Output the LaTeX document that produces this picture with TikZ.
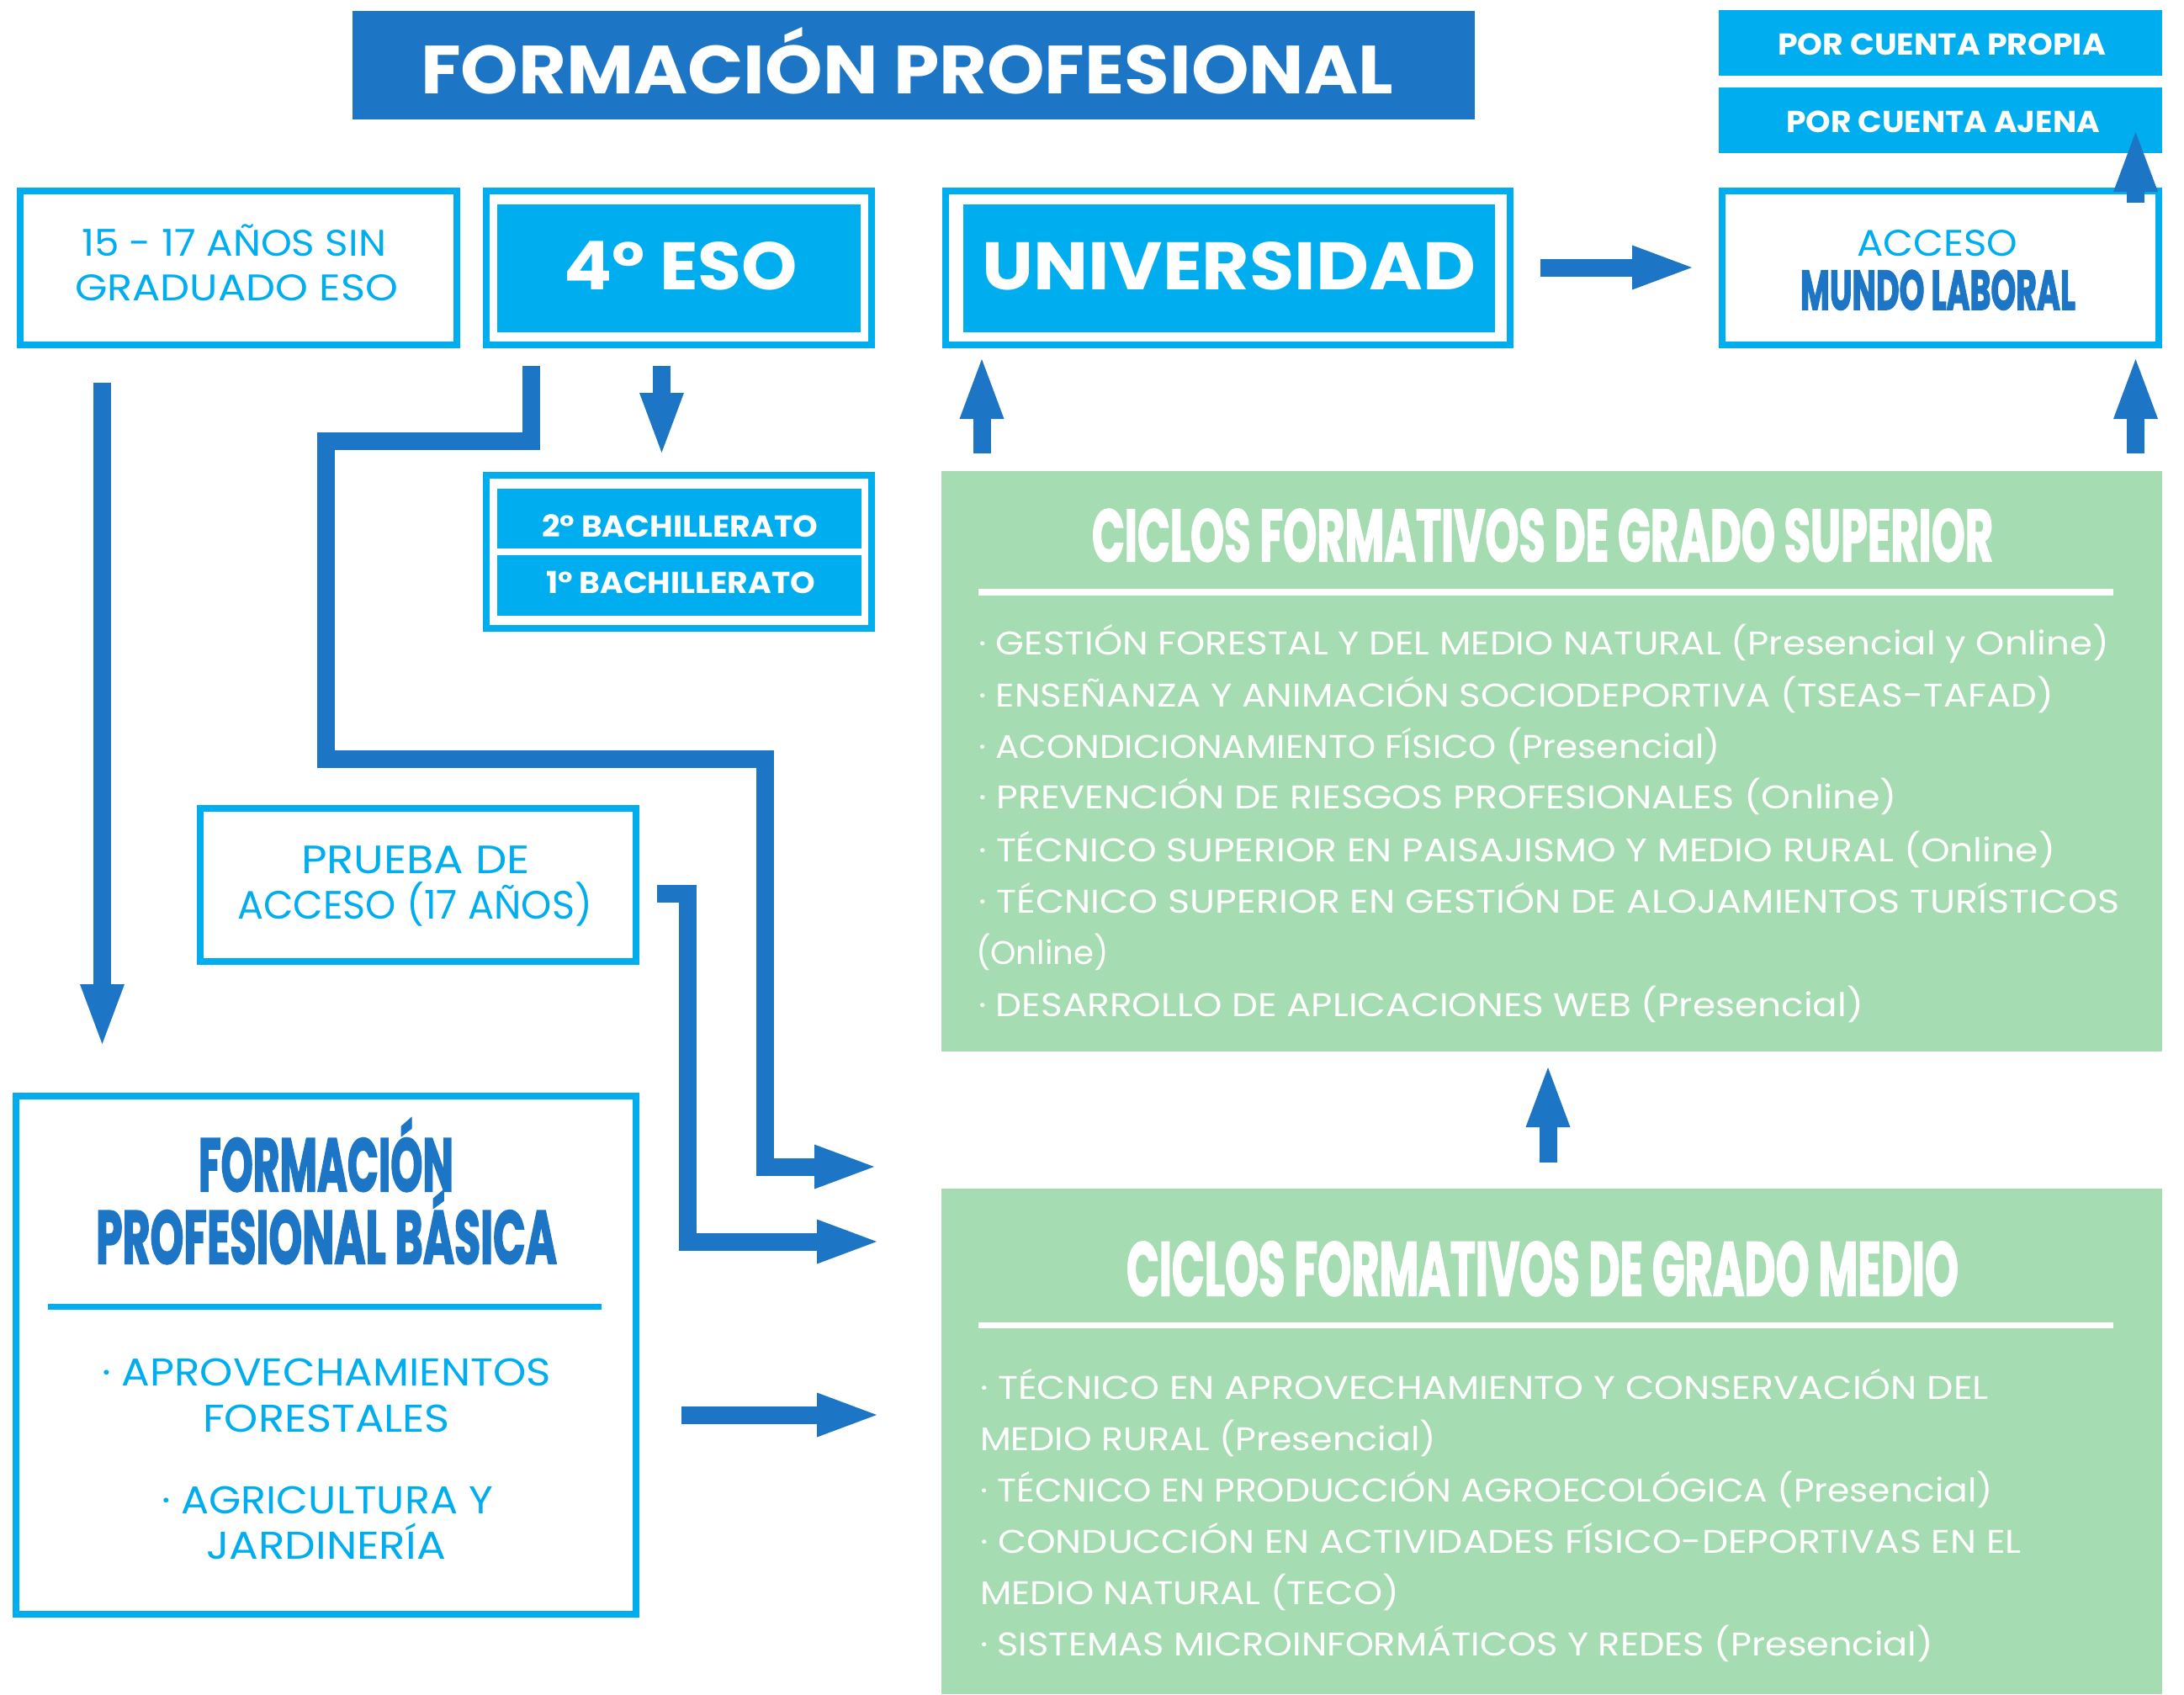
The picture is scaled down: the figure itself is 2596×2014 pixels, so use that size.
\documentclass[tikz,border=0pt]{standalone}
\usepackage{fontspec}
\setmainfont{Poppins}
\newfontfamily\condfont{Poppins}[BoldFeatures={FakeBold=2.5}]
\usetikzlibrary{arrows.meta}
\definecolor{dblue}{RGB}{28,117,197}
\definecolor{cyanb}{RGB}{0,174,239}
\definecolor{lgreen}{RGB}{166,220,177}
\newcommand{\tline}[6]{\node[anchor=base west,#5] (#1) at (#2,#3) {\resizebox{#4pt}{\height}{#6}};}
\begin{document}
\begin{tikzpicture}[x=1pt,y=-1pt,
  every node/.style={inner sep=0pt,outer sep=0pt},
  lt/.style={text=cyanb,font=\fontsize{#1pt}{#1pt}\selectfont},
  wt/.style={text=white,font=\fontsize{#1pt}{#1pt}\selectfont},
  bw/.style={text=white,font=\bfseries\fontsize{#1pt}{#1pt}\selectfont},
  cond/.style={font=\condfont\bfseries\fontsize{#1pt}{#1pt}\selectfont},
  box/.style={draw=cyanb,line width=8pt},
  fillbox/.style={fill=#1,draw=none},
  sepline/.style={line width=#1},
  flow/.style={draw=dblue,line width=21pt,line join=miter,
    -{Triangle[length=71pt,width=53pt,line width=0pt]}}]
\fill[white] (0,0) rectangle (2596,2014);
% ---- boxes
\node[fillbox=dblue,minimum width=1334pt,minimum height=129pt] (title) at (1086,77.5) {};
\node[fillbox=cyanb,minimum width=527pt,minimum height=78pt] (propia) at (2306.5,51) {};
\node[fillbox=cyanb,minimum width=527pt,minimum height=78pt] (ajena) at (2306.5,143) {};
\node[box,minimum width=519pt,minimum height=183pt] (anos) at (283.5,318.5) {};
\node[box,minimum width=458pt,minimum height=183pt] (eso) at (807,318.5) {};
\node[fillbox=cyanb,minimum width=432pt,minimum height=152pt] (esoin) at (807,319) {};
\node[box,minimum width=671pt,minimum height=183pt] (univ) at (1459.5,318.5) {};
\node[fillbox=cyanb,minimum width=632pt,minimum height=152pt] (univin) at (1461,319) {};
\node[box,minimum width=519pt,minimum height=183pt] (mundo) at (2306.5,318.5) {};
\node[box,minimum width=458pt,minimum height=182pt] (bach) at (807,656) {};
\node[fillbox=cyanb,minimum width=433pt,minimum height=71pt] (bachtwo) at (807.5,616.5) {};
\node[fillbox=cyanb,minimum width=433pt,minimum height=72pt] (bachone) at (807.5,696) {};
\node[box,minimum width=518pt,minimum height=182pt] (prueba) at (497,1052) {};
\node[box,minimum width=737pt,minimum height=616pt] (fpb) at (387.5,1611) {};
\node[fillbox=lgreen,minimum width=1451pt,minimum height=690pt] (sup) at (1844.5,905) {};
\node[fillbox=lgreen,minimum width=1451pt,minimum height=601pt] (med) at (1844.5,1713.5) {};
% ---- separators
\draw[cyanb,sepline=7pt] (57,1553.5) -- (715,1553.5);
\draw[white,sepline=8pt] (1163,704) -- (2512,704);
\draw[white,sepline=7pt] (1163,1575.5) -- (2512,1575.5);
% ---- texts
\tline{ttitle}{500}{111}{1156}{bw=81}{FORMACIÓN PROFESIONAL}
\tline{tpropia}{2113}{65}{390}{bw=36}{POR CUENTA PROPIA}
\tline{tajena}{2123}{157}{373}{bw=36}{POR CUENTA AJENA}
\tline{tanos1}{97}{304}{362}{lt=44}{15 - 17 AÑOS SIN}
\tline{tanos2}{89}{357}{384}{lt=44}{GRADUADO ESO}
\tline{teso}{670}{344}{278}{bw=80}{4° ESO}
\tline{tuniv}{1167}{344}{587}{bw=80}{UNIVERSIDAD}
\tline{tacceso}{2207}{304}{191}{lt=44}{ACCESO}
\tline{tmundo}{2140}{368}{327}{cond=66,text=dblue}{MUNDO LABORAL}
\tline{tbtwo}{644}{638}{328}{bw=36}{2° BACHILLERATO}
\tline{tbone}{649}{705}{320}{bw=36}{1° BACHILLERATO}
\tline{tpr1}{358}{1038}{272}{lt=47}{PRUEBA DE}
\tline{tpr2}{282}{1092}{422}{lt=47}{ACCESO (17 AÑOS)}
\tline{tfpb1}{236}{1416}{303}{cond=89,text=dblue}{FORMACIÓN}
\tline{tfpb2}{114}{1502}{548}{cond=89,text=dblue}{PROFESIONAL BÁSICA}
\tline{tfi1}{121}{1647}{534}{lt=46}{· APROVECHAMIENTOS}
\tline{tfi2}{241}{1702}{294}{lt=46}{FORESTALES}
\tline{tfi3}{192}{1799}{394}{lt=46}{· AGRICULTURA Y}
\tline{tfi4}{245}{1853}{285}{lt=46}{JARDINERÍA}
\tline{tsup}{1298}{667}{1071}{cond=87,text=white}{CICLOS FORMATIVOS DE GRADO SUPERIOR}
\tline{ts1}{1163}{778}{1344}{wt=39}{· GESTIÓN FORESTAL Y DEL MEDIO NATURAL (Presencial y Online)}
\tline{ts2}{1163}{840}{1278}{wt=39}{· ENSEÑANZA Y ANIMACIÓN SOCIODEPORTIVA (TSEAS-TAFAD)}
\tline{ts3}{1163}{901}{882}{wt=39}{· ACONDICIONAMIENTO FÍSICO (Presencial)}
\tline{ts4}{1163}{961}{1092}{wt=39}{· PREVENCIÓN DE RIESGOS PROFESIONALES (Online)}
\tline{ts5}{1163}{1024}{1280}{wt=39}{· TÉCNICO SUPERIOR EN PAISAJISMO Y MEDIO RURAL (Online)}
\tline{ts6}{1163}{1085}{1356}{wt=39}{· TÉCNICO SUPERIOR EN GESTIÓN DE ALOJAMIENTOS TURÍSTICOS}
\tline{ts7}{1160}{1146}{158}{wt=39}{(Online)}
\tline{ts8}{1163}{1208}{1052}{wt=39}{· DESARROLLO DE APLICACIONES WEB (Presencial)}
\tline{tmed}{1339}{1540}{989}{cond=90,text=white}{CICLOS FORMATIVOS DE GRADO MEDIO}
\tline{tm1}{1165}{1663}{1199}{wt=39}{· TÉCNICO EN APROVECHAMIENTO Y CONSERVACIÓN DEL}
\tline{tm2}{1165}{1724}{542}{wt=39}{MEDIO RURAL (Presencial)}
\tline{tm3}{1165}{1785}{1204}{wt=39}{· TÉCNICO EN PRODUCCIÓN AGROECOLÓGICA (Presencial)}
\tline{tm4}{1165}{1846}{1238}{wt=39}{· CONDUCCIÓN EN ACTIVIDADES FÍSICO-DEPORTIVAS EN EL}
\tline{tm5}{1165}{1907}{498}{wt=39}{MEDIO NATURAL (TECO)}
\tline{tm6}{1165}{1968}{1133}{wt=39}{· SISTEMAS MICROINFORMÁTICOS Y REDES (Presencial)}
% ---- connector end points
\coordinate (anosout) at (121.5,455);
\coordinate (fpbin) at (121.5,1241);
\coordinate (esoout) at (786.5,435);
\coordinate (bachin) at (786.5,538);
\coordinate (esoout2) at (631.5,435);
\coordinate (medin1) at (1039,1387);
\coordinate (prout) at (781,1062.5);
\coordinate (medin2) at (1042,1476);
\coordinate (fpbout) at (810,1682);
\coordinate (medin3) at (1042,1682);
\coordinate (medout) at (1840,1382);
\coordinate (supin) at (1840,1269);
\coordinate (supout1) at (1167,539);
\coordinate (univin2) at (1167,427);
\coordinate (supout2) at (2538.5,539);
\coordinate (mundoin) at (2538.5,427);
\coordinate (univout) at (1831,318);
\coordinate (mundoin2) at (2011,318);
\coordinate (mundoout) at (2538.5,241);
\coordinate (ajenain) at (2538.5,157);
% ---- connectors
\draw[flow] (anosout) -- (fpbin);
\draw[flow] (esoout) -- (bachin);
\draw[flow] (esoout2) -- ++(0,89.5) -- ++(-244,0) -- ++(0,377.5) -- ++(521.5,0) |- (medin1);
\draw[flow] (prout) -- ++(36,0) |- (medin2);
\draw[flow] (fpbout) -- (medin3);
\draw[flow] (medout) -- (supin);
\draw[flow] (supout1) -- (univin2);
\draw[flow] (supout2) -- (mundoin);
\draw[flow] (univout) -- (mundoin2);
\draw[flow] (mundoout) -- (ajenain);
\end{tikzpicture}
\end{document}
